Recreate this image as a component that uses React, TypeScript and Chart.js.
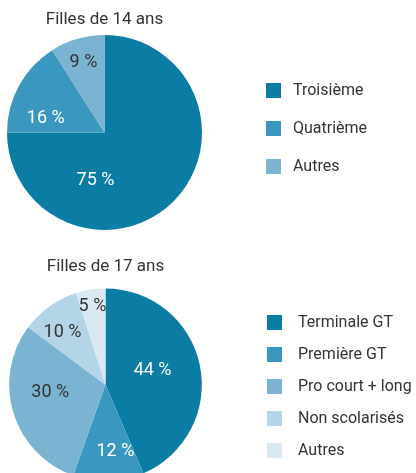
import React, { useEffect, useRef } from "react";
import { Chart, registerables } from "chart.js";
Chart.register(...registerables);

// ---- data ----
const title14 = "Filles de 14 ans";
const categories14 = ["Troisième", "Quatrième", "Autres"];
const values14 = [75, 16, 9];

const title17 = "Filles de 17 ans";
const categories17 = ["Terminale GT", "Première GT", "Pro court + long", "Non scolarisés", "Autres"];
const values17 = [44, 12, 30, 10, 5];

// ---- styles ----
const colors14 = ["#0B7DA4", "#3A97BF", "#7AB4D2"];
const colors17 = ["#0B7DA4", "#3A97BF", "#7AB4D2", "#B4D5E8", "#D8E9F3"];
const TEXT = "#333333";
const UI_FONT = "Roboto, 'Liberation Sans', sans-serif";
const LABEL_FONT = "18px Roboto, 'Liberation Sans', sans-serif";

const sliceLabels = {
  id: "sliceLabels",
  afterDatasetsDraw(chart: any, _args: any, opts: any) {
    const meta = chart.getDatasetMeta(0);
    const ds = chart.data.datasets[0];
    const ctx = chart.ctx;
    ctx.save();
    ctx.font = opts.font;
    ctx.textAlign = "center";
    ctx.textBaseline = "middle";
    meta.data.forEach((arc: any, i: number) => {
      const p = arc.getProps(["x", "y", "startAngle", "endAngle", "outerRadius"], true);
      const a = (p.startAngle + p.endAngle) / 2 + ((opts.shift[i] || 0) * Math.PI) / 180;
      const r = p.outerRadius * opts.radius[i];
      ctx.fillStyle = opts.colors[i];
      ctx.fillText(`${ds.data[i]} %`, p.x + Math.cos(a) * r, p.y + Math.sin(a) * r);
    });
    ctx.restore();
  },
};

const sideLegend = {
  id: "sideLegend",
  afterDraw(chart: any, _args: any, opts: any) {
    const ctx = chart.ctx;
    const bg = chart.data.datasets[0].backgroundColor;
    ctx.save();
    chart.data.labels.forEach((lab: string, i: number) => {
      const y = opts.top + i * opts.step;
      ctx.fillStyle = bg[i];
      ctx.fillRect(opts.left, y, opts.box, opts.box);
      ctx.fillStyle = opts.color;
      ctx.font = opts.font;
      ctx.textBaseline = "middle";
      ctx.textAlign = "left";
      ctx.fillText(lab, opts.left + opts.textOffset, y + opts.box / 2 + 0.5);
    });
    ctx.restore();
  },
};

function makeConfig(
  title: string,
  labels: string[],
  values: number[],
  colors: string[],
  layout: any,
  titlePad: any,
  labelOpts: any,
  legendOpts: any
): any {
  return {
    type: "pie",
    data: {
      labels,
      datasets: [{ data: values, backgroundColor: colors, borderWidth: 0 }],
    },
    options: {
      responsive: false,
      animation: false,
      layout: { padding: layout },
      plugins: {
        legend: { display: false },
        tooltip: { enabled: false },
        title: {
          display: true,
          text: title,
          color: TEXT,
          font: { family: UI_FONT, size: 17, weight: "normal" },
          padding: titlePad,
        },
        sliceLabels: labelOpts,
        sideLegend: legendOpts,
      },
    },
    plugins: [sliceLabels, sideLegend],
  };
}

export default function App() {
  const ref1 = useRef<HTMLCanvasElement>(null);
  const ref2 = useRef<HTMLCanvasElement>(null);

  useEffect(() => {
    const c1 = new Chart(
      ref1.current!,
      makeConfig(
        title14,
        categories14,
        values14,
        colors14,
        { left: 7, right: 214, top: 0, bottom: 15 },
        { top: 9.5, bottom: 5 },
        {
          font: LABEL_FONT,
          colors: ["#ffffff", "#ffffff", TEXT],
          shift: [55.6, -15.2, -0.5],
          radius: [0.5, 0.62, 0.75],
        },
        { left: 266, top: 83, step: 38, box: 15, textOffset: 27, color: TEXT, font: `16px ${UI_FONT}` }
      )
    );
    const c2 = new Chart(
      ref2.current!,
      makeConfig(
        title17,
        categories17,
        values17,
        colors17,
        { left: 9, right: 214, top: 0, bottom: 24 },
        { top: 12, bottom: 11 },
        {
          font: LABEL_FONT,
          colors: ["#ffffff", "#ffffff", TEXT, TEXT, TEXT],
          shift: [-5, -6.7, 8.6, -4, -0.6],
          radius: [0.51, 0.7, 0.58, 0.7, 0.82],
        },
        { left: 267, top: 70, step: 32, box: 15, textOffset: 31, color: TEXT, font: `16px ${UI_FONT}` }
      )
    );
    return () => {
      c1.destroy();
      c2.destroy();
    };
  }, []);

  return (
    <div
      style={{
        position: "absolute",
        left: 0,
        top: 0,
        width: 416,
        height: 473,
        overflow: "hidden",
        background: "#ffffff",
      }}
    >
      <canvas ref={ref1} width={416} height={245} style={{ position: "absolute", left: 0, top: 0 }} />
      <canvas ref={ref2} width={416} height={260} style={{ position: "absolute", left: 0, top: 245 }} />
    </div>
  );
}
